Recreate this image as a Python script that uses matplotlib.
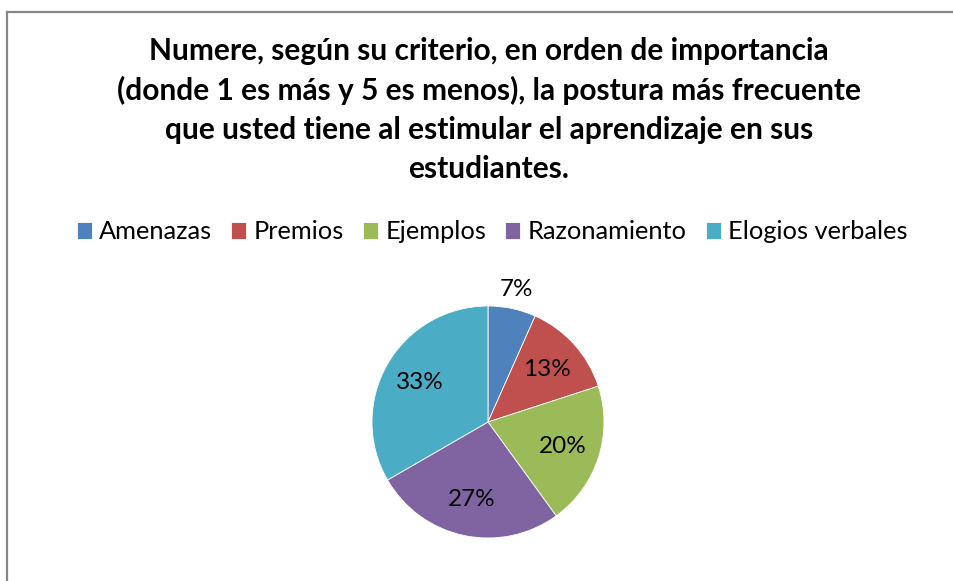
import matplotlib
matplotlib.use("Agg")
import matplotlib.pyplot as plt
import numpy as np
from matplotlib.lines import Line2D

plt.rcParams['font.family'] = ['Lato', 'DejaVu Sans']

categories = ['Amenazas', 'Premios', 'Ejemplos', 'Razonamiento', 'Elogios verbales']
values = [1, 2, 3, 4, 5]
colors = ['#4F81BD', '#C0504D', '#9BBB59', '#8064A2', '#4BACC6']
title = ('Numere, según su criterio, en orden de importancia\n'
         '(donde 1 es más y 5 es menos), la postura más frecuente\n'
         'que usted tiene al estimular el aprendizaje en sus\n'
         'estudiantes.')

W, H = 954, 581
fig = plt.figure(figsize=(W / 100, H / 100), dpi=100)

# chart frame (cropped at right and bottom)
fig.add_artist(Line2D([7.5 / W, 7.5 / W], [0, 1 - 12 / H], transform=fig.transFigure,
                      color='#868686', lw=1.6))
fig.add_artist(Line2D([7.5 / W, 1], [1 - 12 / H, 1 - 12 / H], transform=fig.transFigure,
                      color='#868686', lw=1.6))

fig.text(489 / W, 1 - 37 / H, title, ha='center', va='top', fontsize=21.5,
         fontweight='bold', linespacing=1.47)

# pie
cx, cy, r = 488, 422, 116
ax = fig.add_axes([(cx - r) / W, (H - cy - r) / H, 2 * r / W, 2 * r / H])
wedges, texts, autotexts = ax.pie(values, colors=colors, startangle=90, counterclock=False,
                                  autopct='%1.0f%%', pctdistance=0.68,
                                  wedgeprops=dict(edgecolor='white', linewidth=0.6),
                                  textprops=dict(fontsize=17.5, color='black'))
ax.set_xlim(-1, 1)
ax.set_ylim(-1, 1)
ax.set_aspect('equal')

# small slice label sits outside
w0 = wedges[0]
ang = np.deg2rad((w0.theta1 + w0.theta2) / 2)
autotexts[0].set_position((1.18 * np.cos(ang), 1.17 * np.sin(ang)))

fig.legend(wedges, categories, loc='center', bbox_to_anchor=(492 / W, 1 - 232 / H),
           ncol=5, frameon=False, fontsize=18.3, handlelength=0.6, handleheight=0.6,
           handletextpad=0.28, columnspacing=0.75)

fig.savefig('out.png', dpi=100)
